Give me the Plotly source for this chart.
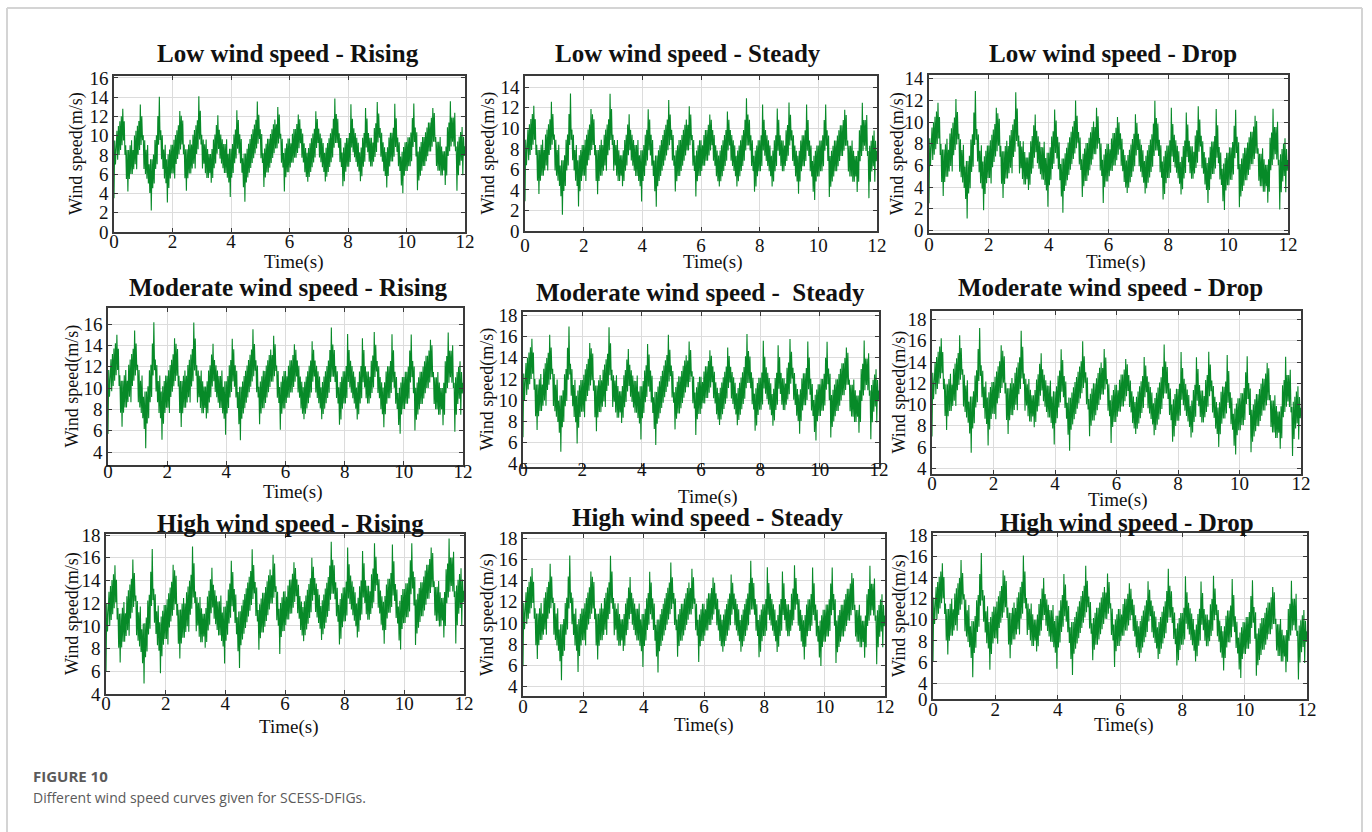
import numpy as np
import plotly.graph_objects as go

# ---------------- data ----------------
# shared gust pattern (deviation from the local mean wind speed, m/s), sampled every 0.025 s over 0..12 s
gust_pattern = [
    # 0-1 s
    -4.5, 1.5, -1.0, 2.0, 2.5, -0.5, 3.0, 0.0, 3.5, 0.5, 4.0, 1.0, 4.8, 1.5, 3.5, 0.0, 1.0, -2.5, 0.5, -3.8,
    0.5, -2.5, 1.0, -2.0, 1.5, -2.0, 0.5, -1.5, 2.0, -1.0, 2.5, -1.5, 3.0, 0.0, 3.5, 0.5, 5.2, 1.0, 4.0, 1.5,
    # 1-2 s
    2.0, -1.5, 1.5, -2.0, 0.5, -2.5, 1.0, -3.0, -1.0, -4.0, -0.5, -5.8, -0.5, -3.5, 0.0, -3.0, 1.5, -1.5, 2.0, -1.0,
    4.0, 1.0, 6.0, 1.5, 2.5, -0.5, 2.0, -1.5, 0.5, -2.5, 1.0, -3.0, -0.5, -5.0, 0.0, -3.5, 0.5, -2.5, 1.0, -2.0,
    # 2-3 s
    1.0, -2.0, 1.5, -2.5, 2.0, -1.0, 2.5, -0.5, 3.0, 0.0, 4.5, 0.5, 4.0, 1.0, 3.5, 0.0, 1.0, -2.5, 0.5, -3.8,
    0.5, -2.5, 1.0, -2.0, 1.5, -2.0, 1.0, -1.5, 2.0, -1.0, 2.5, -1.5, 3.0, 0.0, 3.5, 0.5, 6.0, 1.5, 4.5, 1.0,
    # 3-4 s
    2.0, -1.5, 1.5, -1.0, 1.0, -2.0, 1.5, -2.5, 0.5, -2.5, 0.0, -2.0, 0.0, -3.0, 0.5, -2.5, 1.5, -1.5, 2.0, -1.0,
    3.0, 0.0, 4.0, 0.5, 2.5, -0.5, 2.0, -1.0, 1.5, -1.5, 1.0, -2.0, 1.0, -2.0, 1.5, -2.5, 0.0, -3.0, 0.5, -4.5,
    # 4-5 s
    0.5, -2.5, 1.0, -2.0, 2.0, -1.0, 2.5, -0.5, 4.5, 0.5, 3.5, 0.0, 2.0, -1.0, 1.5, -2.0, -0.5, -3.5, 0.0, -5.0,
    0.0, -3.0, 0.5, -2.5, 1.0, -2.0, 1.5, -1.5, 2.0, -1.0, 2.5, -0.5, 3.0, 0.0, 3.5, 0.5, 5.4, 1.0, 4.0, 1.5,
    # 5-6 s
    2.5, -0.5, 2.0, -1.0, 0.0, -3.5, 0.5, -2.5, 1.0, -2.0, 1.5, -2.0, 1.5, -1.5, 2.0, -1.0, 2.5, -0.5, 3.0, 0.0,
    3.5, 0.5, 3.0, 0.5, 4.8, 1.0, 4.0, 1.5, 2.0, -1.0, 1.5, -1.5, 0.0, -4.0, 0.5, -2.5, 1.0, -2.0, 1.5, -2.0,
    # 6-7 s
    1.5, -1.5, 1.0, -1.0, 2.0, -1.0, 2.5, -0.5, 2.5, -0.5, 3.0, 0.0, 4.0, 0.5, 3.5, 1.0, 2.5, -0.5, 2.0, -1.0,
    1.0, -2.0, 0.5, -2.5, 0.0, -3.0, 0.5, -2.5, 1.0, -2.0, 1.5, -1.5, 2.0, -1.0, 2.5, -0.5, 4.3, 0.5, 3.5, 1.0,
    # 7-8 s
    2.5, -0.5, 2.0, -1.0, 1.5, -1.5, 1.0, -2.0, 0.0, -3.0, 0.5, -2.5, 1.0, -2.0, 1.5, -1.5, 2.0, -1.0, 2.5, -0.5,
    3.5, 0.5, 5.6, 1.0, 4.0, 1.0, 3.5, 0.5, 2.0, -1.0, 1.5, -1.5, 0.0, -3.5, 0.5, -3.0, 1.0, -2.0, 1.5, -1.5,
    # 8-9 s
    1.5, -1.5, 2.0, -1.0, 5.0, 0.5, 3.5, 0.0, 2.5, -0.5, 2.0, -1.0, 1.5, -1.5, 1.0, -2.0, 0.0, -3.0, 0.5, -2.5,
    1.5, -1.5, 2.0, -1.0, 4.6, 0.5, 3.5, 0.0, 2.0, -1.0, 1.5, -1.5, 1.5, -1.5, 1.0, -1.0, 2.5, -0.5, 3.0, 0.0,
    # 9-10 s
    5.2, 1.0, 4.0, 1.5, 2.5, -0.5, 2.0, -1.0, 1.0, -2.0, 0.5, -2.5, 0.0, -3.7, 0.5, -2.5, 1.5, -1.5, 2.0, -1.0,
    2.0, -1.0, 2.5, -0.5, 5.0, 0.5, 3.5, 0.0, 1.5, -1.5, 1.0, -2.0, -0.5, -3.5, 0.0, -4.3, 0.5, -2.5, 1.0, -2.0,
    # 10-11 s
    1.0, -2.0, 1.5, -1.5, 1.5, -1.5, 2.0, -1.0, 3.5, 0.5, 5.0, 1.0, 2.5, -0.5, 2.0, -4.0, 0.0, -3.0, 0.5, -2.5,
    1.0, -2.0, 1.5, -1.5, 1.5, -1.5, 2.0, -1.0, 2.5, -0.5, 3.0, 0.0, 3.0, 0.0, 3.5, 0.5, 4.5, 1.0, 4.0, 1.0,
    # 11-12 s
    1.5, -1.5, 1.0, -2.0, 1.0, -2.0, 1.5, -2.5, 0.5, -2.5, 0.0, -2.0, 0.0, -3.5, 0.5, -2.5, 2.5, -0.5, 3.0, 0.0,
    5.2, 0.5, 3.5, 1.0, 3.5, 0.5, 4.0, 0.0, 0.5, -4.1, 1.0, -2.5, 1.5, -1.5, 2.0, -1.0, 2.5, -2.5, 1.5, -0.5,
    0.5,
]

titles = [
    "Low wind speed - Rising", "Low wind speed - Steady", "Low wind speed - Drop",
    "Moderate wind speed - Rising", "Moderate wind speed -  Steady", "Moderate wind speed - Drop",
    "High wind speed - Rising", "High wind speed - Steady", "High wind speed - Drop",
]
# mean wind level at t = 0 s and at t = 12 s for each panel
level_start = [8.0, 7.4, 7.0, 10.2, 11.0, 11.5, 10.5, 10.4, 10.6]
level_end = [8.4, 7.3, 6.0, 10.0, 10.4, 9.2, 12.6, 10.2, 8.4]

# y axis ranges and tick labels
y_ranges = [(0, 16.2), (0, 15.1), (-0.25, 14.35), (2.8, 17.5), (3.7, 18.3), (3.46, 18.8), (4, 18.1), (3.1, 18.4), (2.5, 18.2)]
y_tickvals = [
    [0, 2, 4, 6, 8, 10, 12, 14, 16],
    [0, 2, 4, 6, 8, 10, 12, 14],
    [0, 2, 4, 6, 8, 10, 12, 14],
    [4, 6, 8, 10, 12, 14, 16],
    [4, 6, 8, 10, 12, 14, 16, 18],
    [4, 6, 8, 10, 12, 14, 16, 18],
    [4, 6, 8, 10, 12, 14, 16, 18],
    [4, 6, 8, 10, 12, 14, 16, 18],
    [2.5, 4, 6, 8, 10, 12, 14, 16, 18],
]
y_ticktext = [
    None, None, None, None, None, None, None, None,
    ["0", "4", "6", "8", "10", "12", "14", "16", "18"],
]
x_ticks = [0, 2, 4, 6, 8, 10, 12]

# ---------------- layout geometry (pixels) ----------------
W, H = 1372, 832
# plot-area boxes: left, right, top, bottom
boxes = [
    (114, 465, 76, 232), (525, 877, 76, 231), (929, 1288, 75, 233),
    (108, 463, 308, 465), (523, 879, 312, 467), (932, 1301, 311, 474),
    (106, 464, 534, 694), (523, 885, 534, 696), (933, 1307, 533, 699),
]
x_label_standoff = [-9, -4, -7, -12, -16, -9, -9, -8, -8]
title_pos = [(288, 53), (688, 54), (1113, 53), (288, 287), (700, 292), (1110, 287), (290, 523), (707, 517), (1127, 522)]
xtitle_pos = [(293, 262), (712, 262), (1115, 262), (292, 492), (707, 497), (1117, 500), (288, 727), (703, 725), (1123, 725)]
ytitle_x = [76, 488, 897, 72, 487, 899, 72, 487, 899]

t = np.linspace(0, 12, len(gust_pattern))
base = np.array(gust_pattern)

fig = go.Figure()
layout = dict(
    width=W, height=H, margin=dict(l=0, r=0, t=0, b=0, autoexpand=False),
    paper_bgcolor="white", plot_bgcolor="white", showlegend=False,
)
annotations = []
shapes = []
serif = "Liberation Serif, Times New Roman, serif"

for i in range(9):
    L, R, T, B = boxes[i]
    y = base + level_start[i] + (level_end[i] - level_start[i]) * t / 12.0
    xa = "x" if i == 0 else f"x{i+1}"
    ya = "y" if i == 0 else f"y{i+1}"
    fig.add_trace(go.Scatter(x=t, y=y, mode="lines", xaxis=xa, yaxis=ya,
                             line=dict(color="#078a28", width=1.1), hoverinfo="skip"))
    axcommon = dict(showline=True, mirror="ticks", linecolor="#3a3a3a", linewidth=1.5,
                    showgrid=True, gridcolor="#dcdcdc", gridwidth=1, zeroline=False,
                    ticks="inside", ticklen=4, tickcolor="#3a3a3a",
                    tickfont=dict(family=serif, size=19, color="#111"))
    xkey = "xaxis" if i == 0 else f"xaxis{i+1}"
    ykey = "yaxis" if i == 0 else f"yaxis{i+1}"
    layout[xkey] = dict(axcommon, domain=[L / W, R / W], anchor=ya,
                        range=[0, 12], tickvals=x_ticks, ticklabelstandoff=x_label_standoff[i])
    yd = dict(axcommon, domain=[1 - B / H, 1 - T / H], anchor=xa,
              range=list(y_ranges[i]), tickvals=y_tickvals[i], ticklabelstandoff=0)
    if y_ticktext[i] is not None:
        yd["ticktext"] = y_ticktext[i]
    layout[ykey] = yd

    tx, ty = title_pos[i]
    annotations.append(dict(text="<b>" + titles[i] + "</b>", x=tx / W, y=1 - ty / H, xref="paper", yref="paper",
                            showarrow=False, xanchor="center", yanchor="middle",
                            font=dict(family=serif, size=25, color="#111")))
    xx, xy = xtitle_pos[i]
    annotations.append(dict(text="Time(s)", x=xx / W, y=1 - xy / H, xref="paper", yref="paper",
                            showarrow=False, xanchor="center", yanchor="middle",
                            font=dict(family=serif, size=19, color="#111")))
    annotations.append(dict(text="Wind speed(m/s)", x=ytitle_x[i] / W, y=1 - ((T + B) / 2) / H,
                            xref="paper", yref="paper", showarrow=False, textangle=-90,
                            xanchor="center", yanchor="middle",
                            font=dict(family=serif, size=18, color="#111")))

# caption
annotations.append(dict(text="<b>FIGURE 10</b>", x=31 / W, y=1 - 776 / H, xref="paper", yref="paper",
                        showarrow=False, xanchor="left", yanchor="middle",
                        font=dict(family="Open Sans, sans-serif", size=15, color="#5a5a5a")))
annotations.append(dict(text="Different wind speed curves given for SCESS-DFIGs.", x=31 / W, y=1 - 797 / H,
                        xref="paper", yref="paper", showarrow=False, xanchor="left", yanchor="middle",
                        font=dict(family="Open Sans, sans-serif", size=14, color="#5a5a5a")))

# page frame lines
shapes.append(dict(type="line", xref="paper", yref="paper", x0=7 / W, x1=1362 / W, y0=1 - 8 / H, y1=1 - 8 / H,
                   line=dict(color="#d4d4d4", width=2)))
shapes.append(dict(type="line", xref="paper", yref="paper", x0=7 / W, x1=7 / W, y0=1 - 8 / H, y1=0,
                   line=dict(color="#d4d4d4", width=2)))
shapes.append(dict(type="line", xref="paper", yref="paper", x0=1362 / W, x1=1362 / W, y0=1 - 8 / H, y1=0,
                   line=dict(color="#d4d4d4", width=2)))

layout["annotations"] = annotations
layout["shapes"] = shapes
fig.update_layout(**layout)
fig.write_html("out.html")
